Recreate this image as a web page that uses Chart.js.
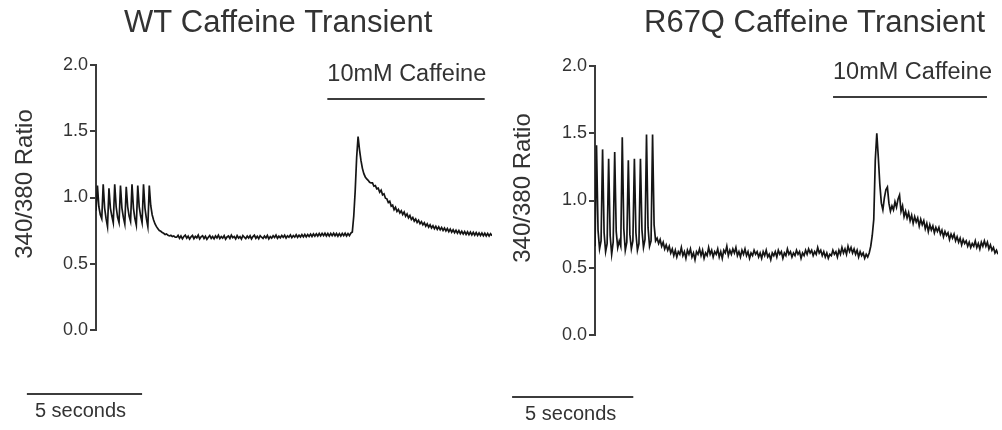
<!DOCTYPE html>
<html><head><meta charset="utf-8">
<script src="https://cdn.jsdelivr.net/npm/chart.js@4.4.1/dist/chart.umd.min.js"></script>
<style>
html,body{margin:0;padding:0;background:#fff;width:1002px;height:430px;overflow:hidden}
canvas{position:absolute;top:0}
#wt{left:0}
#r67q{left:500px}
</style></head><body>
<canvas id="wt" width="500" height="430"></canvas>
<canvas id="r67q" width="502" height="430"></canvas>
<script>
// ---- shared labels ----
const panelTitles = ['WT Caffeine Transient', 'R67Q Caffeine Transient'];
const yAxisTitle = '340/380 Ratio';
const yTickValues = [0, 0.5, 1.0, 1.5, 2.0];
const caffeineLabel = '10mM Caffeine';
const scaleBarLabel = '5 seconds';
const scaleBarSeconds = 5;

// ---- WT trace (sampled every wtSampleStep seconds) ----
const wtSampleStep = 0.0625;
const wtCaffeineWindow = [10.04, 16.87];
const wtScaleBarStart = -3.0;
const wtRatio = [
  0.90,
  1.09, 0.93, 0.87, 0.84, 1.10, 0.92, 0.84, 0.78, 1.07, 0.92, 0.86, 0.81,
  1.10, 0.93, 0.85, 0.81, 1.09, 0.92, 0.85, 0.80, 1.08, 0.93, 0.86, 0.82,
  1.10, 0.92, 0.84, 0.79, 1.09, 0.93, 0.86, 0.81, 1.10, 0.92, 0.84, 0.78,
  1.09, 0.94, 0.87, 0.83,
  0.80, 0.78, 0.765, 0.75, 0.745, 0.735, 0.73, 0.72, 0.725, 0.715, 0.71, 0.715, 0.705, 0.71, 0.70,
  0.70, 0.714, 0.692, 0.709, 0.688, 0.706, 0.716, 0.693, 0.708, 0.686,
  0.703, 0.713, 0.689, 0.707, 0.696, 0.716, 0.687, 0.704, 0.712, 0.691,
  0.708, 0.684, 0.70, 0.713, 0.692, 0.706, 0.688, 0.71, 0.695, 0.715,
  0.69, 0.705, 0.693, 0.712, 0.685, 0.702, 0.709, 0.691, 0.716, 0.697,
  0.706, 0.688, 0.712, 0.694, 0.705, 0.686, 0.713, 0.70, 0.69, 0.709,
  0.694, 0.711, 0.687, 0.705, 0.715, 0.692, 0.707, 0.689, 0.712, 0.70,
  0.691, 0.709, 0.695, 0.714, 0.688, 0.705, 0.693, 0.711, 0.698, 0.716,
  0.692, 0.708, 0.696, 0.713, 0.699, 0.715, 0.694, 0.711, 0.70, 0.718,
  0.697, 0.713, 0.701, 0.719, 0.699, 0.716, 0.702, 0.72, 0.703, 0.721,
  0.703, 0.721, 0.706, 0.724, 0.706, 0.725, 0.708, 0.726, 0.709, 0.728,
  0.71, 0.729, 0.712, 0.73, 0.71, 0.728, 0.709, 0.729, 0.712, 0.73,
  0.711, 0.728, 0.708, 0.727, 0.709, 0.729, 0.712, 0.73, 0.71, 0.728,
  0.712, 0.731,
  0.74, 0.86, 1.05, 1.30, 1.46, 1.36, 1.28, 1.22, 1.18, 1.155, 1.14, 1.13, 1.115, 1.11,
  1.11, 1.085, 1.09, 1.065, 1.07, 1.04, 1.055, 1.02, 1.028, 0.995,
  0.99, 0.962, 0.972, 0.935, 0.942, 0.908, 0.926, 0.895, 0.91, 0.884,
  0.90, 0.872, 0.89, 0.858, 0.876, 0.846, 0.864, 0.834, 0.849, 0.822,
  0.838, 0.812, 0.828, 0.802, 0.818, 0.794, 0.809, 0.784, 0.801, 0.776,
  0.794, 0.77, 0.787, 0.764, 0.783, 0.759, 0.778, 0.756, 0.774, 0.752,
  0.77, 0.747, 0.765, 0.742, 0.761, 0.738, 0.756, 0.734, 0.752, 0.731,
  0.75, 0.727, 0.745, 0.724, 0.743, 0.721, 0.741, 0.72, 0.739, 0.718,
  0.737, 0.716, 0.735, 0.714, 0.733, 0.713, 0.732, 0.711, 0.73, 0.71,
  0.729, 0.709, 0.727, 0.712
];

// ---- R67Q trace ----
const r67qSampleStep = 0.0625;
const r67qCaffeineWindow = [9.82, 16.17];
const r67qScaleBarStart = -3.42;
const r67qRatio = [
  0.66,
  1.41, 0.78, 0.64, 0.70, 1.38, 0.76, 0.62, 0.68, 1.31, 0.74, 0.60, 0.69,
  1.36, 0.77, 0.65, 0.70, 0.66, 1.47, 0.79, 0.63, 0.69, 1.30, 0.75, 0.64, 0.70,
  1.31, 0.76, 0.63, 0.68, 1.31, 0.78, 0.65, 0.71, 1.49, 0.80, 0.66, 0.70,
  1.49, 0.82, 0.70, 0.72,
  0.68, 0.71, 0.66, 0.69, 0.64, 0.67, 0.63, 0.66,
  0.61, 0.64, 0.59, 0.63, 0.58, 0.62, 0.60, 0.65, 0.59, 0.62,
  0.57, 0.63, 0.60, 0.64, 0.58, 0.61, 0.56, 0.62, 0.60, 0.64,
  0.59, 0.63, 0.57, 0.61, 0.59, 0.65, 0.60, 0.63, 0.58, 0.62,
  0.60, 0.64, 0.58, 0.62, 0.57, 0.63, 0.61, 0.66, 0.59, 0.63,
  0.60, 0.64, 0.61, 0.65, 0.59, 0.62, 0.58, 0.63, 0.60, 0.64,
  0.59, 0.62, 0.57, 0.61, 0.59, 0.63, 0.60, 0.62, 0.58, 0.61,
  0.57, 0.62, 0.59, 0.63, 0.58, 0.60, 0.56, 0.61, 0.59, 0.62,
  0.58, 0.63, 0.60, 0.62, 0.57, 0.61, 0.59, 0.64, 0.60, 0.62,
  0.58, 0.61, 0.59, 0.63, 0.60, 0.62, 0.57, 0.61, 0.59, 0.63,
  0.60, 0.64, 0.61, 0.63, 0.59, 0.62, 0.60, 0.65, 0.61, 0.63,
  0.59, 0.62, 0.58, 0.61, 0.57, 0.60, 0.59, 0.63, 0.60, 0.62,
  0.58, 0.63, 0.60, 0.65, 0.61, 0.64, 0.60, 0.66, 0.62, 0.65,
  0.61, 0.64, 0.60, 0.63, 0.58, 0.62, 0.59, 0.61, 0.57, 0.60,
  0.58, 0.61,
  0.66, 0.74, 0.86, 1.30, 1.50, 1.32, 1.12, 0.98, 0.93, 1.02,
  1.08, 1.10, 0.98, 0.92, 0.96, 0.93, 0.99, 0.95, 1.01, 1.04,
  0.92, 0.96, 0.88, 0.92, 0.87,
  0.91, 0.85, 0.89, 0.83, 0.88, 0.84, 0.87, 0.81, 0.86, 0.82,
  0.85, 0.79, 0.83, 0.77, 0.82, 0.78, 0.81, 0.76, 0.80, 0.77,
  0.80, 0.75, 0.78, 0.73, 0.77, 0.74, 0.76, 0.71, 0.75, 0.72,
  0.75, 0.70, 0.73, 0.69, 0.72, 0.67, 0.71, 0.68, 0.70, 0.66,
  0.69, 0.65, 0.68, 0.66, 0.70, 0.65, 0.68, 0.64, 0.69, 0.66,
  0.70, 0.66, 0.69, 0.64, 0.67, 0.63, 0.65, 0.61, 0.63, 0.60
];

// ---- styling ----
const FONT = '"Liberation Sans", Arial, Helvetica, sans-serif';
const TEXT = '#333333';
const AXIS = '#3c3c3c';
const TRACE = '#151515';

const annotPlugin = {
  id: 'annot',
  afterDraw(chart, args, o) {
    const {ctx, chartArea: ca, scales: {x}} = chart;
    ctx.save();
    ctx.fillStyle = TEXT;
    ctx.strokeStyle = AXIS;
    ctx.textBaseline = 'middle';
    // panel title
    ctx.font = '31px ' + FONT;
    ctx.textAlign = 'left';
    ctx.fillText(o.title, o.titleX, 23);
    // y axis title
    ctx.save();
    ctx.translate(o.yTitleX, o.yTitleY);
    ctx.rotate(-Math.PI / 2);
    ctx.font = '24px ' + FONT;
    ctx.textAlign = 'center';
    ctx.fillText(yAxisTitle, 0, 0);
    ctx.restore();
    // caffeine bar
    const c0 = x.getPixelForValue(o.caffeine[0]);
    const c1 = x.getPixelForValue(o.caffeine[1]);
    const cy = ca.top + o.caffeineDy;
    ctx.lineWidth = 2;
    ctx.beginPath(); ctx.moveTo(c0, cy); ctx.lineTo(c1, cy); ctx.stroke();
    ctx.font = '23.5px ' + FONT;
    ctx.textAlign = 'left';
    ctx.fillText(caffeineLabel, c0, cy - 24);
    // time scale bar
    const s0 = x.getPixelForValue(o.scaleStart);
    const s1 = x.getPixelForValue(o.scaleStart + scaleBarSeconds);
    const sy = ca.bottom + o.scaleDy;
    ctx.beginPath(); ctx.moveTo(s0, sy); ctx.lineTo(s1, sy); ctx.stroke();
    ctx.font = '20px ' + FONT;
    ctx.fillText(scaleBarLabel, s0 + o.scaleTextDx, sy + 17);
    ctx.restore();
  }
};

function makePanel(canvasId, values, step, axisWidth, padding, annot) {
  const pts = values.map((v, i) => ({x: i * step, y: v}));
  return new Chart(document.getElementById(canvasId), {
    type: 'line',
    data: {datasets: [{data: pts, borderColor: TRACE, borderWidth: 1.7, pointRadius: 0, tension: 0, fill: false}]},
    options: {
      responsive: false,
      animation: false,
      events: [],
      layout: {padding},
      plugins: {legend: {display: false}, tooltip: {enabled: false}, title: {display: false}, annot},
      scales: {
        x: {type: 'linear', min: 0, max: (values.length - 1) * step, display: false},
        y: {
          min: 0, max: 2,
          afterBuildTicks: s => { s.ticks = yTickValues.map(v => ({value: v})); },
          afterFit: s => { s.width = axisWidth; },
          ticks: {callback: v => Number(v).toFixed(1), color: TEXT, padding: 2, font: {size: 18, family: FONT}},
          grid: {drawOnChartArea: false, drawTicks: true, tickLength: 6, color: AXIS, lineWidth: 2},
          border: {display: true, color: AXIS, width: 2},
          title: {display: false}
        }
      }
    },
    plugins: [annotPlugin]
  });
}

makePanel('wt', wtRatio, wtSampleStep, 96, {top: 65, bottom: 100, left: 0, right: 8}, {
  title: panelTitles[0], titleX: 124, yTitleX: 25, yTitleY: 184,
  caffeine: wtCaffeineWindow, caffeineDy: 34,
  scaleStart: wtScaleBarStart, scaleDy: 64, scaleTextDx: 8
});
makePanel('r67q', r67qRatio, r67qSampleStep, 95, {top: 66, bottom: 95, left: 0, right: 4}, {
  title: panelTitles[1], titleX: 144, yTitleX: 23, yTitleY: 188,
  caffeine: r67qCaffeineWindow, caffeineDy: 31,
  scaleStart: r67qScaleBarStart, scaleDy: 62, scaleTextDx: 13
});
</script>
</body></html>
